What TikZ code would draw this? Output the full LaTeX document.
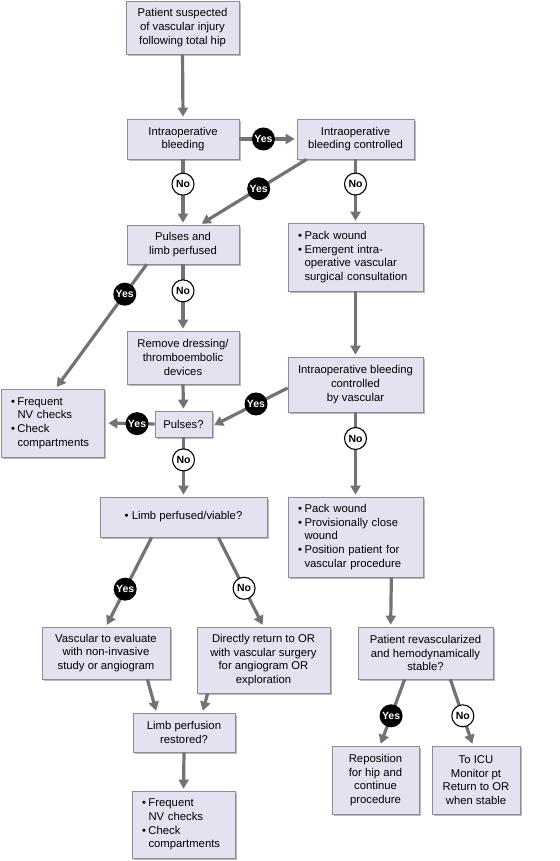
\documentclass[tikz,border=0pt]{standalone}
\usepackage{fontspec}
\setmainfont{Liberation Sans}
\usetikzlibrary{arrows.meta,shadows}
\definecolor{boxfill}{RGB}{226,226,240}
\definecolor{boxline}{RGB}{140,140,150}
\definecolor{shadowc}{RGB}{185,185,185}
\definecolor{arrowc}{RGB}{115,115,115}
\newcommand{\bl}{\makebox[6.5pt][l]{\textbullet}}
\newcommand{\ind}{\hspace*{6.5pt}}
\begin{document}
\begin{tikzpicture}[x=1pt,y=-1pt,
  box/.style={draw=boxline, line width=0.7pt, fill=boxfill, align=center, inner sep=2pt,
    font=\fontsize{11.3}{13.7}\selectfont,
    drop shadow={shadow xshift=2.2pt, shadow yshift=-2.2pt, fill=shadowc, opacity=1}},
  wh/.style 2 args={minimum width=#1pt, minimum height=#2pt},
  bul/.style={align=left, inner xsep=10pt},
  arr/.style={draw=arrowc, line width=3.2pt, -{Triangle[width=10pt,length=9pt]}, shorten >=2pt},
  yes/.style={circle, fill=black, text=white, inner sep=0pt, minimum size=23pt,
    font=\bfseries\fontsize{10.5}{12}\selectfont},
  no/.style={circle, draw=black, line width=1.1pt, fill=white, text=black, inner sep=0pt, minimum size=22pt,
    font=\bfseries\fontsize{10.5}{12}\selectfont}]
\useasboundingbox (0,0) rectangle (559,861);

% boxes
\node[box, wh={113}{53}] (b1) at (182.5,27.5) {Patient suspected\\of vascular injury\\following total hip};
\node[box, wh={112}{40}] (b2) at (183,139) {Intraoperative\\bleeding};
\node[box, wh={117}{40}] (b3) at (355.5,139) {Intraoperative\\bleeding controlled};
\node[box, wh={112}{39}] (b4) at (183,244.5) {Pulses and\\limb perfused};
\node[box, bul, minimum height=68pt, text width=115pt] (b5) at (355.5,257)
  {\bl Pack wound\\\bl Emergent intra-\\\ind operative vascular\\\ind surgical consultation};
\node[box, wh={112}{53}] (b6) at (183,357.5) {Remove dressing/\\thromboembolic\\devices};
\node[box, wh={135}{55}] (b7) at (355.5,384.5) {Intraoperative bleeding\\controlled\\by vascular};
\node[box, bul, minimum height=68pt, text width=83pt] (b8) at (52.5,423)
  {\bl Frequent\\\ind NV checks\\\bl Check\\\ind compartments};
\node[box, wh={57}{26}] (b9) at (183.5,424) {Pulses?};
\node[box, wh={167}{40}] (b10) at (183.5,517) {\textbullet\ Limb perfused/viable?};
\node[box, bul, minimum height=80pt, text width=115pt] (b11) at (355.5,537)
  {\bl Pack wound\\\bl Provisionally close\\\ind wound\\\bl Position patient for\\\ind vascular procedure};
\node[box, wh={128}{52}] (b12) at (106,653) {Vascular to evaluate\\with non-invasive\\study or angiogram};
\node[box, wh={133}{66}] (b13) at (263.5,660) {Directly return to OR\\with vascular surgery\\for angiogram OR\\exploration};
\node[box, wh={135}{52}] (b14) at (425.5,653) {Patient revascularized\\and hemodynamically\\stable?};
\node[box, wh={102}{39}] (b15) at (184,732.5) {Limb perfusion\\restored?};
\node[box, bul, minimum height=67pt, text width=83pt] (b16) at (183.5,824.5)
  {\bl Frequent\\\ind NV checks\\\bl Check\\\ind compartments};
\node[box, wh={87}{68}] (b17) at (375.5,780) {Reposition\\for hip and\\continue\\procedure};
\node[box, wh={88}{68}] (b18) at (476,780) {To ICU\\Monitor pt\\Return to OR\\when stable};

% connectors
\draw[arr] (b1.south) -- (b2.north);
\draw[arr] (b2.east) -- node[yes, pos=0.42] (y1) {Yes} (b3.west);
\draw[arr] (b2.south) -- node[no, pos=0.38] (n1) {No} (b4.north);
\draw[arr] ([xshift=10pt]b3.south west) -- node[yes, pos=0.45] (y2) {Yes} ([xshift=17pt]b4.north);
\draw[arr] (b3.south) -- node[no, pos=0.39] (n2) {No} (b5.north);
\draw[arr] ([xshift=20pt]b4.south west) -- node[yes, pos=0.24] (y3) {Yes} ([xshift=3pt]b8.north);
\draw[arr] (b4.south) -- node[no, pos=0.4] (n3) {No} (b6.north);
\draw[arr] (b5.south) -- (b7.north);
\draw[arr] (b6.south) -- (b9.north);
\draw[arr, shorten >=4pt] (b9.west) -- node[yes, pos=0.35] (y4) {Yes} (b8.east);
\draw[arr] ([yshift=-3.5pt]b7.west) -- node[yes, pos=0.42] (y5) {Yes} ([yshift=-2pt]b9.east);
\draw[arr] (b9.south) -- node[no, pos=0.38] (n4) {No} (b10.north);
\draw[arr] (b7.south) -- node[no, pos=0.31] (n5) {No} (b11.north);
\draw[arr] ([xshift=52pt]b10.south west) -- node[yes, pos=0.58] (y6) {Yes} (b12.north);
\draw[arr] ([xshift=-49pt]b10.south east) -- node[no, pos=0.57] (n6) {No} (b13.north);
\draw[arr] ([xshift=-32pt]b11.south east) -- ([xshift=33pt]b14.north west);
\draw[arr] ([xshift=-23pt]b12.south east) -- ([xshift=24pt]b15.north west);
\draw[arr] ([xshift=11pt]b13.south west) -- ([xshift=-33pt]b15.north east);
\draw[arr] (b15.south) -- (b16.north);
\draw[arr] ([xshift=47pt]b14.south west) -- node[yes, pos=0.55] (y7) {Yes} ([xshift=4.5pt]b17.north);
\draw[arr] ([xshift=-43pt]b14.south east) -- node[no, pos=0.55] (n7) {No} ([xshift=-3pt]b18.north);
\end{tikzpicture}
\end{document}
